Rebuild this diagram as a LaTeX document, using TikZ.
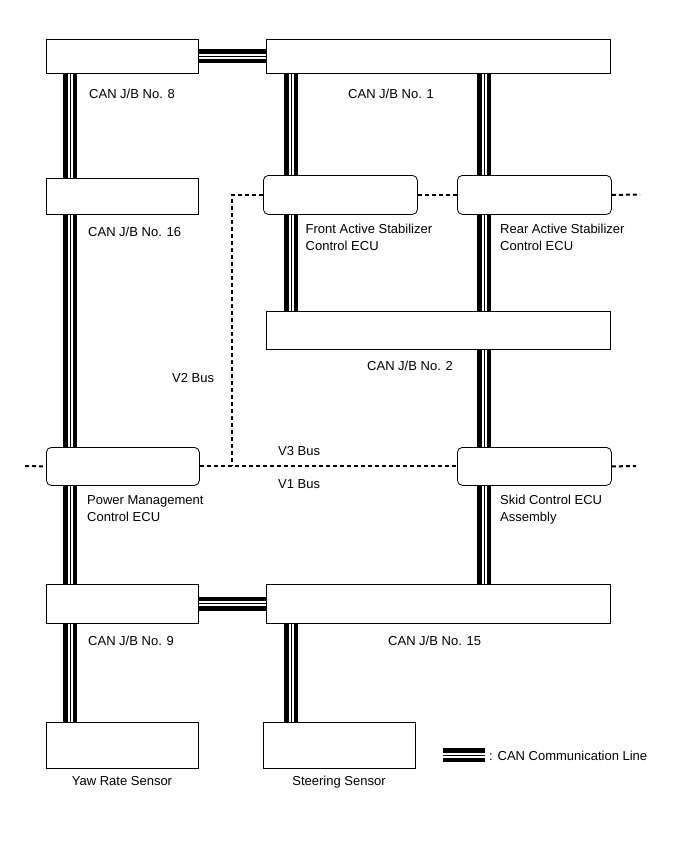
\documentclass[tikz,border=0pt]{standalone}
\usepackage{fontspec}
\setmainfont{Liberation Sans}
\usetikzlibrary{backgrounds}
\begin{document}
\begin{tikzpicture}[x=1pt,y=-1pt,
  jb/.style={draw=black, line width=0.8pt, fill=white, inner sep=0pt, anchor=north west},
  ecu/.style={jb, rounded corners=5pt},
  can/.style={draw=black, line width=14pt, postaction={draw=white, line width=5pt}, postaction={draw=black, line width=1pt}},
  bus/.style={draw=black, line width=2pt, dash pattern=on 4pt off 3pt},
  lbl/.style={inner sep=0pt, anchor=base west, font=\fontsize{13}{17}\selectfont},
  mlbl/.style={inner sep=0pt, anchor=north west, align=left, font=\fontsize{13}{17}\selectfont}]
\useasboundingbox (0,0) rectangle (690,855);

% boxes
\node[jb, minimum width=152pt, minimum height=34pt] (jb8) at (46,39) {};
\node[jb, minimum width=344pt, minimum height=34pt] (jb1) at (266,39) {};
\node[jb, minimum width=152pt, minimum height=36pt] (jb16) at (46,178) {};
\node[ecu, minimum width=154pt, minimum height=39pt] (front) at (263,175) {};
\node[ecu, minimum width=154pt, minimum height=39pt] (rear) at (457,175) {};
\node[jb, minimum width=344pt, minimum height=38pt] (jb2) at (266,311) {};
\node[ecu, minimum width=153pt, minimum height=38pt] (pmc) at (46,447) {};
\node[ecu, minimum width=154pt, minimum height=38pt] (skid) at (457,447) {};
\node[jb, minimum width=152pt, minimum height=39pt] (jb9) at (46,584) {};
\node[jb, minimum width=344pt, minimum height=39pt] (jb15) at (266,584) {};
\node[jb, minimum width=152pt, minimum height=46pt] (yaw) at (46,722) {};
\node[jb, minimum width=152pt, minimum height=46pt] (steer) at (263,722) {};

% column positions
\coordinate (colA) at (70,0);
\coordinate (colB) at (291,0);
\coordinate (colC) at (484,0);

\begin{pgfonlayer}{background}
\draw[can] (jb8.south -| colA) -- (jb16.north -| colA);
\draw[can] (jb16.south -| colA) -- (pmc.north -| colA);
\draw[can] (pmc.south -| colA) -- (jb9.north -| colA);
\draw[can] (jb9.south -| colA) -- (yaw.north -| colA);
\draw[can] (jb1.south -| colB) -- (front.north -| colB);
\draw[can] (front.south -| colB) -- (jb2.north -| colB);
\draw[can] (jb15.south -| colB) -- (steer.north -| colB);
\draw[can] (jb1.south -| colC) -- (rear.north -| colC);
\draw[can] (rear.south -| colC) -- (jb2.north -| colC);
\draw[can] (jb2.south -| colC) -- (skid.north -| colC);
\draw[can] (skid.south -| colC) -- (jb15.north -| colC);
\draw[can] (jb8.east) -- (jb1.west);
\draw[can] (jb9.east) -- (jb15.west);
\end{pgfonlayer}

% buses
\coordinate (busL) at (25,466);
\coordinate (busR) at (636,466);
\coordinate (topR) at (640,194.5);
\coordinate (v2x) at (232,466);
\draw[bus] (busL) -- (pmc.west);
\draw[bus] (pmc.east) -- (skid.west);
\draw[bus] (skid.east) -- (busR);
\draw[bus] (front.west) -| (v2x);
\draw[bus] (front.east) -- (rear.west);
\draw[bus] (rear.east) -- (topR);

% labels
\node[lbl] (t8) at (89,98) {CAN J/B No. 8};
\node[lbl] (t1) at (348,98) {CAN J/B No. 1};
\node[lbl] (t16) at (88,236) {CAN J/B No. 16};
\node[mlbl] (tfront) at (305.5,224) {Front Active Stabilizer\\Control ECU};
\node[mlbl] (trear) at (500,224) {Rear Active Stabilizer\\Control ECU};
\node[lbl] (t2) at (367,370) {CAN J/B No. 2};
\node[lbl] (tv2) at (172,382) {V2 Bus};
\node[lbl] (tv3) at (278,455) {V3 Bus};
\node[lbl] (tv1) at (278,488) {V1 Bus};
\node[mlbl] (tpmc) at (87,495) {Power Management\\Control ECU};
\node[mlbl] (tskid) at (500,495) {Skid Control ECU\\Assembly};
\node[lbl] (t9) at (88,645) {CAN J/B No. 9};
\node[lbl] (t15) at (388,645) {CAN J/B No. 15};
\node[lbl, anchor=base] (tyaw) at (122,785) {Yaw Rate Sensor};
\node[lbl, anchor=base] (tsteer) at (339,785) {Steering Sensor};

% legend
\coordinate (lgA) at (443,755);
\coordinate (lgB) at (485,755);
\draw[can] (lgA) -- (lgB);
\node[lbl] (tleg) at (489,760) {: CAN Communication Line};
\end{tikzpicture}
\end{document}
